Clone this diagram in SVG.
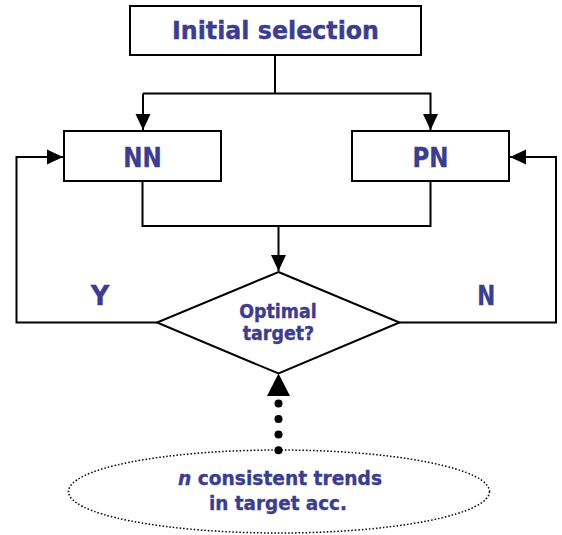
<svg xmlns="http://www.w3.org/2000/svg" width="562" height="535" viewBox="0 0 562 535">
<style>
.box{fill:#fff;stroke:#000;stroke-width:2}
.ln{fill:none;stroke:#000;stroke-width:2}
.t{font-family:"DejaVu Sans",Verdana,sans-serif;font-weight:bold;fill:#3d3d8f;stroke:#3d3d8f;stroke-width:0.4;text-anchor:middle}
</style>
<defs>
<marker id="ah" markerUnits="userSpaceOnUse" markerWidth="17" markerHeight="16" refX="16" refY="8" orient="auto">
<path d="M0,0.5 L16,8 L0,15.5 Z" fill="#000"/>
</marker>
</defs>
<rect width="562" height="535" fill="#fff"/>
<g id="connectors">
<path class="ln" d="M275,55 V93.5"/>
<path class="ln" d="M143,93.5 H430.5 V130" marker-end="url(#ah)"/>
<path class="ln" d="M143,93.5 V130" marker-end="url(#ah)"/>
<path class="ln" d="M142.5,181 V226 H430.5 V181"/>
<path class="ln" d="M278.5,226 V271" marker-end="url(#ah)"/>
<path class="ln" d="M157,322.5 H16.5 V157 H63" marker-end="url(#ah)"/>
<path class="ln" d="M399.5,322.5 H556 V157 H510" marker-end="url(#ah)"/>
<path d="M278.5,373.5 L267,396 L290,396 Z" fill="#000"/>
<g fill="#000">
<circle cx="278.5" cy="403.5" r="4"/>
<circle cx="278.5" cy="419" r="4"/>
<circle cx="278.5" cy="434.5" r="4"/>
<circle cx="278.5" cy="450.3" r="4"/>
</g>
</g>
<g id="initial">
<rect class="box" x="130" y="6" width="291" height="49"/>
<text class="t" x="275.5" y="39" font-size="24.5" textLength="207" lengthAdjust="spacingAndGlyphs">Initial selection</text>
</g>
<g id="nn">
<rect class="box" x="64" y="131" width="157" height="50"/>
<text class="t" x="142.5" y="167" font-size="26.5" textLength="38.5" lengthAdjust="spacingAndGlyphs">NN</text>
</g>
<g id="pn">
<rect class="box" x="352" y="131" width="157" height="50"/>
<text class="t" x="430.5" y="167" font-size="26.5" textLength="36" lengthAdjust="spacingAndGlyphs">PN</text>
</g>
<g id="decision">
<path class="box" d="M278.5,272 L399.5,322.5 L278.5,373.5 L157,322.5 Z"/>
<text class="t" x="278" y="317.5" font-size="19" textLength="77.5" lengthAdjust="spacingAndGlyphs">Optimal</text>
<text class="t" x="278.5" y="340" font-size="19" textLength="71.5" lengthAdjust="spacingAndGlyphs">target?</text>
</g>
<g id="labels">
<text class="t" x="100" y="305" font-size="27" textLength="18.6" lengthAdjust="spacingAndGlyphs">Y</text>
<text class="t" x="486.3" y="305" font-size="27" textLength="18" lengthAdjust="spacingAndGlyphs">N</text>
</g>
<g id="trends">
<ellipse cx="279" cy="491.5" rx="210.5" ry="41.5" fill="none" stroke="#000" stroke-width="1.5" stroke-dasharray="1.5 2"/>
<text class="t" x="280" y="484.5" font-size="20" textLength="204" lengthAdjust="spacingAndGlyphs"><tspan font-style="italic">n</tspan> consistent trends</text>
<text class="t" x="278" y="510" font-size="20" textLength="138" lengthAdjust="spacingAndGlyphs">in target acc.</text>
</g>
</svg>
